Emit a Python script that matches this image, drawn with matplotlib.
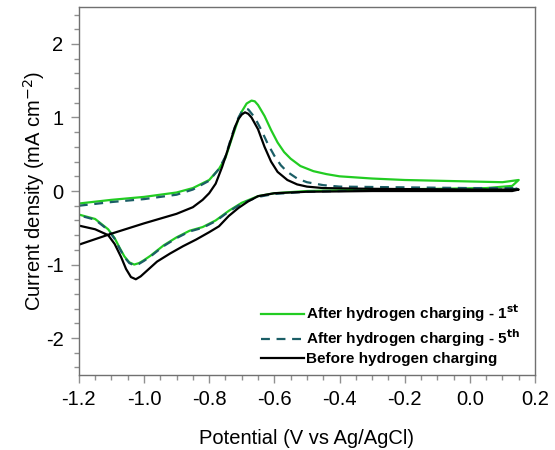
import numpy as np
import matplotlib.pyplot as plt
from matplotlib.ticker import MultipleLocator

plt.rcParams['font.family'] = ['Liberation Sans', 'DejaVu Sans']
plt.rcParams['axes.unicode_minus'] = False

# after hydrogen charging - 1st cycle (forward then reverse scan)
x_1st = [-1.20, -1.10, -1.00, -0.90, -0.85, -0.80, -0.77, -0.75, -0.73, -0.71,
         -0.70, -0.685, -0.67, -0.66, -0.65, -0.63, -0.61, -0.59, -0.57, -0.55,
         -0.52, -0.48, -0.44, -0.40, -0.30, -0.20, -0.10, 0.00, 0.10, 0.15,
         0.13, 0.05, -0.10, -0.30, -0.50, -0.60, -0.65, -0.70, -0.74, -0.78,
         -0.82, -0.86, -0.90, -0.94, -0.98, -1.00, -1.015, -1.03, -1.045, -1.06,
         -1.075, -1.09, -1.11, -1.15, -1.20]
y_1st = [-0.17, -0.12, -0.08, -0.02, 0.04, 0.15, 0.30, 0.45, 0.72, 0.98,
         1.08, 1.19, 1.23, 1.22, 1.17, 1.02, 0.83, 0.66, 0.53, 0.44,
         0.34, 0.27, 0.23, 0.20, 0.17, 0.15, 0.14, 0.13, 0.12, 0.15,
         0.07, 0.04, 0.03, 0.02, 0.00, -0.03, -0.07, -0.16, -0.27, -0.40,
         -0.49, -0.54, -0.63, -0.74, -0.88, -0.94, -0.98, -1.00, -0.97, -0.89,
         -0.77, -0.64, -0.52, -0.38, -0.32]

# after hydrogen charging - 5th cycle
x_5th = [-1.20, -1.10, -1.00, -0.90, -0.85, -0.80, -0.77, -0.75, -0.73, -0.71,
         -0.70, -0.69, -0.68, -0.66, -0.64, -0.62, -0.60, -0.58, -0.56, -0.53,
         -0.50, -0.45, -0.40, -0.20, 0.00, 0.15,
         0.13, 0.05, -0.10, -0.30, -0.50, -0.60, -0.65, -0.70, -0.74, -0.78,
         -0.82, -0.86, -0.90, -0.94, -0.98, -1.00, -1.015, -1.03, -1.045, -1.06,
         -1.075, -1.09, -1.11, -1.15, -1.20]
y_5th = [-0.20, -0.15, -0.11, -0.05, 0.02, 0.14, 0.30, 0.47, 0.76, 1.00,
         1.08, 1.12, 1.11, 1.00, 0.83, 0.64, 0.48, 0.35, 0.26, 0.17,
         0.12, 0.08, 0.06, 0.05, 0.04, 0.04,
         0.02, 0.02, 0.02, 0.01, -0.01, -0.04, -0.08, -0.17, -0.28, -0.41,
         -0.50, -0.55, -0.64, -0.75, -0.89, -0.95, -0.99, -1.01, -0.98, -0.90,
         -0.78, -0.65, -0.53, -0.39, -0.33]

# before hydrogen charging
x_before = [-1.20, -1.10, -1.00, -0.90, -0.85, -0.82, -0.80, -0.78, -0.76, -0.74,
            -0.72, -0.71, -0.70, -0.69, -0.68, -0.67, -0.65, -0.63, -0.61, -0.59,
            -0.56, -0.53, -0.50, -0.45, -0.30, 0.00, 0.15,
            0.13, 0.00, -0.30, -0.50, -0.60, -0.65, -0.68, -0.71, -0.74, -0.77,
            -0.80, -0.84, -0.88, -0.92, -0.96, -0.99, -1.01, -1.025, -1.04, -1.055,
            -1.07, -1.09, -1.11, -1.15, -1.20]
y_before = [-0.73, -0.58, -0.44, -0.31, -0.22, -0.12, -0.03, 0.10, 0.33, 0.60,
            0.88, 0.98, 1.04, 1.07, 1.05, 1.00, 0.84, 0.60, 0.40, 0.26,
            0.15, 0.09, 0.06, 0.04, 0.03, 0.02, 0.02,
            0.00, 0.00, 0.00, -0.01, -0.03, -0.07, -0.14, -0.23, -0.34, -0.48,
            -0.56, -0.66, -0.75, -0.85, -0.96, -1.08, -1.16, -1.20, -1.17, -1.06,
            -0.90, -0.72, -0.60, -0.52, -0.47]

labels = ['After hydrogen charging - 1$^{\\mathbf{st}}$',
          'After hydrogen charging - 5$^{\\mathbf{th}}$',
          'Before hydrogen charging']

fig = plt.figure(figsize=(5.55, 4.5), dpi=100)
ax = fig.add_axes([0.142, 0.167, 0.822, 0.817])

ax.plot(x_1st, y_1st, color='#22cc22', lw=1.6, label=labels[0])
ax.plot(x_5th, y_5th, color='#1b5e66', lw=1.6, ls=(0, (4, 3)), label=labels[1])
ax.plot(x_before, y_before, color='black', lw=1.6, label=labels[2])

ax.set_xlim(-1.2, 0.2)
ax.set_ylim(-2.5, 2.5)
ax.xaxis.set_minor_locator(MultipleLocator(0.05))
ax.yaxis.set_major_locator(MultipleLocator(1))
ax.yaxis.set_minor_locator(MultipleLocator(0.2))
ax.set_xticks(np.arange(-1.2, 0.21, 0.2))
ax.set_xticklabels(['-1.2', '-1.0', '-0.8', '-0.6', '-0.4', '-0.2', '0.0', '0.2'])

for s in ax.spines.values():
    s.set_color('#707070')
    s.set_linewidth(1.0)
ax.tick_params(which='major', direction='out', length=6, width=1, color='#909090',
               labelsize=14.5, pad=5)
ax.tick_params(which='minor', direction='out', length=3.5, width=1, color='#909090')

ax.set_xlabel('Potential (V vs Ag/AgCl)', fontsize=14.5, labelpad=14)
ax.set_ylabel('Current density (mA cm$^{-2}$)', fontsize=14.5, labelpad=-1)

ax.legend(loc='lower right', frameon=False, prop={'weight': 'bold', 'size': 11},
          handlelength=2.8, handletextpad=0.1, labelspacing=0.22,
          borderaxespad=0.15, bbox_to_anchor=(0.985, 0.0))

fig.savefig('out.png', dpi=100)
